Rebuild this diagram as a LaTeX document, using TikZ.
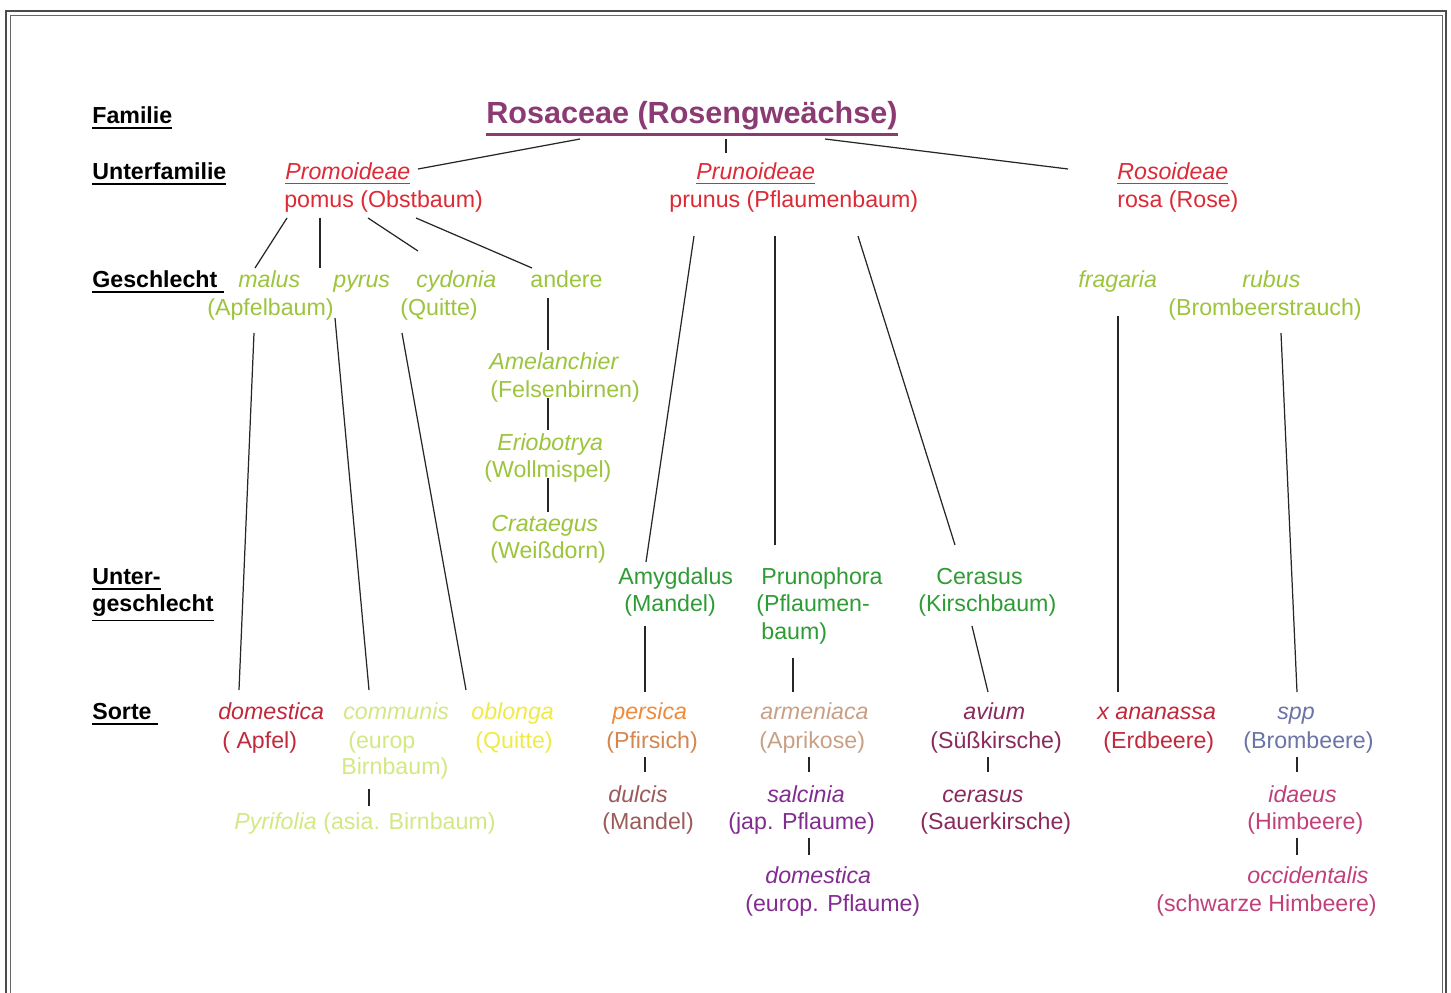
\documentclass[tikz,border=0pt]{standalone}
\usepackage{fontspec}
\setmainfont{Liberation Sans}
\definecolor{titlecol}{HTML}{8B3A73}
\definecolor{subred}{HTML}{DC2A36}
\definecolor{genusgreen}{HTML}{9CC43C}
\definecolor{subgreen}{HTML}{2E9B35}
\definecolor{applered}{HTML}{C0283C}
\definecolor{peargreen}{HTML}{D2E884}
\definecolor{quinceyel}{HTML}{F0EA48}
\definecolor{peachorange}{HTML}{EE8A3A}
\definecolor{peachbrown}{HTML}{D48650}
\definecolor{almondbrown}{HTML}{9C5A5A}
\definecolor{apricottan}{HTML}{C9A086}
\definecolor{plumpurple}{HTML}{822C92}
\definecolor{cherryred}{HTML}{8A2A5C}
\definecolor{berryblue}{HTML}{6A74A6}
\definecolor{raspberry}{HTML}{C0407A}
% underline with a chosen thickness
\newcommand{\ubar}[2][1pt]{\leavevmode\vtop{\hbox{#2}\kern1.6pt\hrule height#1}}

\begin{document}
\begin{tikzpicture}[x=0.02cm,y=-0.02cm,
    txt/.style={anchor=west,inner sep=0pt,text height=9pt,text depth=0pt,
      font=\fontsize{13.2}{15.8}\selectfont},
    lab/.style={txt,font=\fontsize{13.2}{15.8}\selectfont\bfseries},
    conn/.style={line width=0.7pt,black!85}]
  \useasboundingbox (0,0) rectangle (1451,993);
  % frame
  \draw[line width=1.3pt,black!70] (6,1000) -- (6,11) -- (1446,11) -- (1446,1000);
  \draw[line width=0.5pt,black!60] (10,1000) -- (10,15) -- (1442,15) -- (1442,1000);

  % rank labels
  \node[lab] (lfam) at (92,116) {\ubar{Familie}};
  \node[lab] (lufam) at (92,172) {\ubar{Unterfamilie}};
  \node[lab] (lgen) at (92,280) {\ubar{Geschlecht\ }};
  \node[lab] (lugen) at (92,577) {\ubar{Unter-}};
  \node[lab] (lugenb) at (92,604) {\ubar{geschlecht}};
  \node[lab] (lsorte) at (92,712) {\ubar{Sorte\ }};

  % family
  \node[txt,text height=12.5pt,titlecol,font=\fontsize{17.4}{20}\selectfont\bfseries] (ttl) at (486,113) {\ubar[1.3pt]{Rosaceae (Rosengweächse)}};

  % subfamilies
  \node[txt,subred] (promo) at (285,172) {\ubar[0.6pt]{\itshape Promoideae}};
  \node[txt,subred] (pomus) at (284,200) {pomus (Obstbaum)};
  \node[txt,subred] (pruno) at (696,172) {\ubar[0.6pt]{\itshape Prunoideae}};
  \node[txt,subred] (prunus) at (669,200) {prunus (Pflaumenbaum)};
  \node[txt,subred] (roso) at (1117,172) {\ubar[0.6pt]{\itshape Rosoideae}};
  \node[txt,subred] (rosa) at (1117,200) {rosa (Rose)};

  % genera
  \node[txt,genusgreen] (malus) at (238,280) {\itshape malus};
  \node[txt,genusgreen] (pyrus) at (333,280) {\itshape pyrus};
  \node[txt,genusgreen] (cydonia) at (416,280) {\itshape cydonia};
  \node[txt,genusgreen] (andere) at (530,280) {andere};
  \node[txt,genusgreen] (apfelb) at (207,308) {(Apfelbaum)};
  \node[txt,genusgreen] (quitte) at (400,308) {(Quitte)};
  \node[txt,genusgreen] (amel) at (489,362) {\itshape Amelanchier};
  \node[txt,genusgreen] (felsen) at (490,390) {(Felsenbirnen)};
  \node[txt,genusgreen] (erio) at (497,443) {\itshape Eriobotrya};
  \node[txt,genusgreen] (wollm) at (484,470) {(Wollmispel)};
  \node[txt,genusgreen] (crat) at (491,524) {\itshape Crataegus};
  \node[txt,genusgreen] (weiss) at (490,551) {(Weißdorn)};
  \node[txt,genusgreen] (fragaria) at (1078,280) {\itshape fragaria};
  \node[txt,genusgreen] (rubus) at (1242,280) {\itshape rubus};
  \node[txt,genusgreen] (bromstr) at (1168,308) {(Brombeerstrauch)};

  % subgenera
  \node[txt,subgreen] (amyg) at (618,577) {Amygdalus};
  \node[txt,subgreen] (mandel) at (624,604) {(Mandel)};
  \node[txt,subgreen] (prunoph) at (761,577) {Prunophora};
  \node[txt,subgreen] (pflb) at (756,604) {(Pflaumen-};
  \node[txt,subgreen] (pflbb) at (761,632) {baum)};
  \node[txt,subgreen] (ceras) at (936,577) {Cerasus};
  \node[txt,subgreen] (kirsch) at (918,604) {(Kirschbaum)};

  % sorts
  \node[txt,applered] (doma) at (218,712) {\itshape domestica};
  \node[txt,applered] (apfel) at (222,741) {( Apfel)};
  \node[txt,peargreen] (commun) at (343,712) {\itshape communis};
  \node[txt,peargreen] (europ) at (348,741) {(europ};
  \node[txt,peargreen] (birnb) at (341,767) {Birnbaum)};
  \node[txt,quinceyel] (oblonga) at (471,712) {\itshape oblonga};
  \node[txt,quinceyel] (quitteb) at (475,741) {(Quitte)};
  \node[txt,peargreen] (pyrif) at (234,822) {\textit{Pyrifolia} (asia. Birnbaum)};
  \node[txt,peachorange] (persica) at (612,712) {\itshape persica};
  \node[txt,peachbrown] (pfirsich) at (606,741) {(Pfirsich)};
  \node[txt,almondbrown] (dulcis) at (608,795) {\itshape dulcis};
  \node[txt,almondbrown] (mandelb) at (602,822) {(Mandel)};
  \node[txt,apricottan] (armen) at (760,712) {\itshape armeniaca};
  \node[txt,apricottan] (aprik) at (759,741) {(Aprikose)};
  \node[txt,plumpurple] (salc) at (767,795) {\itshape salcinia};
  \node[txt,plumpurple] (jap) at (728,822) {(jap. Pflaume)};
  \node[txt,plumpurple] (domp) at (765,876) {\itshape domestica};
  \node[txt,plumpurple] (europp) at (745,904) {(europ. Pflaume)};
  \node[txt,cherryred] (avium) at (963,712) {\itshape avium};
  \node[txt,cherryred] (suess) at (930,741) {(Süßkirsche)};
  \node[txt,cherryred] (cerasus) at (942,795) {\itshape cerasus};
  \node[txt,cherryred] (sauer) at (920,822) {(Sauerkirsche)};
  \node[txt,applered] (anan) at (1097,712) {\itshape x ananassa};
  \node[txt,applered] (erdb) at (1103,741) {(Erdbeere)};
  \node[txt,berryblue] (spp) at (1277,712) {\itshape spp};
  \node[txt,berryblue] (bromb) at (1243,741) {(Brombeere)};
  \node[txt,raspberry] (idaeus) at (1268,795) {\itshape idaeus};
  \node[txt,raspberry] (himb) at (1247,822) {(Himbeere)};
  \node[txt,raspberry] (occid) at (1247,876) {\itshape occidentalis};
  \node[txt,raspberry] (schw) at (1156,904) {(schwarze Himbeere)};

  % family -> subfamilies
  \draw[conn] ([shift={(94,26)}]ttl.west) -- ([shift={(133,-3)}]promo.west);
  \draw[conn] ([shift={(240,26)}]ttl.west) -- ([shift={(30,-19)}]pruno.west);
  \draw[conn] ([shift={(339,26)}]ttl.west) -- ([shift={(-49,-3)}]roso.west);
  % pomus
  \draw[conn] ([shift={(3,18)}]pomus.west) -- ([shift={(17,-12)}]malus.west);
  \draw[conn] ([shift={(36,18)}]pomus.west) -- ([shift={(-13,-12)}]pyrus.west);
  \draw[conn] ([shift={(84,18)}]pomus.west) -- ([shift={(2,-29)}]cydonia.west);
  \draw[conn] ([shift={(132,18)}]pomus.west) -- ([shift={(2,-12)}]andere.west);
  \draw[conn] ([shift={(47,25)}]apfelb.west) -- ([shift={(21,-22)}]doma.west);
  \draw[conn] ([shift={(2,38)}]pyrus.west) -- ([shift={(26,-22)}]commun.west);
  \draw[conn] ([shift={(2,25)}]quitte.west) -- ([shift={(-5,-22)}]oblonga.west);
  \draw[conn] ([shift={(18,18)}]andere.west) -- ([shift={(59,-12)}]amel.west);
  \draw[conn] ([shift={(58,8)}]felsen.west) -- ([shift={(51,-13)}]erio.west);
  \draw[conn] ([shift={(64,8)}]wollm.west) -- ([shift={(57,-12)}]crat.west);
  \draw[conn] ([shift={(28,22)}]birnb.west) -- ([shift={(135,-16)}]pyrif.west);
  % prunus
  \draw[conn] ([shift={(25,36)}]prunus.west) -- ([shift={(28,-15)}]amyg.west);
  \draw[conn] ([shift={(106,36)}]prunus.west) -- ([shift={(14,-32)}]prunoph.west);
  \draw[conn] ([shift={(189,36)}]prunus.west) -- ([shift={(19,-32)}]ceras.west);
  \draw[conn] ([shift={(21,22)}]mandel.west) -- ([shift={(33,-20)}]persica.west);
  \draw[conn] ([shift={(32,26)}]pflbb.west) -- ([shift={(33,-20)}]armen.west);
  \draw[conn] ([shift={(54,22)}]kirsch.west) -- ([shift={(25,-20)}]avium.west);
  \draw[conn] ([shift={(39,16)}]pfirsich.west) -- ([shift={(37,-23)}]dulcis.west);
  \draw[conn] ([shift={(50,16)}]aprik.west) -- ([shift={(42,-23)}]salc.west);
  \draw[conn] ([shift={(81,16)}]jap.west) -- ([shift={(44,-21)}]domp.west);
  \draw[conn] ([shift={(58,16)}]suess.west) -- ([shift={(46,-23)}]cerasus.west);
  % rosa
  \draw[conn] ([shift={(40,36)}]fragaria.west) -- ([shift={(21,-20)}]anan.west);
  \draw[conn] ([shift={(113,25)}]bromstr.west) -- ([shift={(20,-20)}]spp.west);
  \draw[conn] ([shift={(54,16)}]bromb.west) -- ([shift={(29,-23)}]idaeus.west);
  \draw[conn] ([shift={(50,16)}]himb.west) -- ([shift={(50,-21)}]occid.west);
\end{tikzpicture}
\end{document}
